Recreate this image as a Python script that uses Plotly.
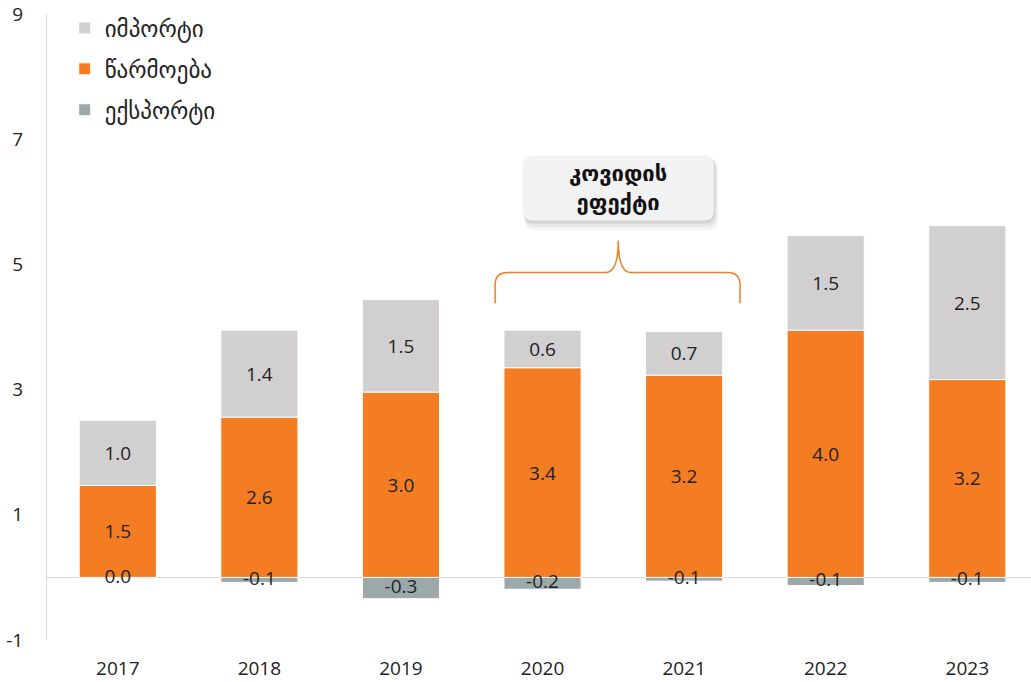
import plotly.graph_objects as go

years = ["2017", "2018", "2019", "2020", "2021", "2022", "2023"]
production = [1.47, 2.56, 2.96, 3.35, 3.23, 3.95, 3.16]
imports = [1.04, 1.39, 1.48, 0.60, 0.70, 1.51, 2.46]
exports = [-0.02, -0.08, -0.34, -0.19, -0.06, -0.13, -0.08]
y_ticks = [-1, 1, 3, 5, 7, 9]

name_imp = "იმპორტი"
name_prod = "წარმოება"
name_exp = "ექსპორტი"
note_lines = ["კოვიდის", "ეფექტი"]

C_IMP = "#D1CFD0"
C_PROD = "#F47C22"
C_EXP = "#9BAAA8"
TXT = "#222222"
FONT = "'Open Sans', 'DejaVu Sans', sans-serif"
FS = 19


def fmt(v):
    s = f"{v:.1f}"
    return "0.0" if s == "-0.0" else s


fig = go.Figure()

fig.add_trace(go.Bar(
    x=years, y=exports, name=name_exp, marker=dict(color=C_EXP, line=dict(color="white", width=1)),
    width=0.545, legendrank=3, legendgroup="c",
))
fig.add_trace(go.Bar(
    x=years, y=production, name=name_prod, marker=dict(color=C_PROD, line=dict(color="white", width=1)),
    width=0.545, text=[fmt(v) for v in production], textposition="inside",
    insidetextanchor="middle", textfont=dict(size=FS, color=TXT, family=FONT),
    legendrank=2, legendgroup="b",
))
fig.add_trace(go.Bar(
    x=years, y=imports, name=name_imp, marker=dict(color=C_IMP, line=dict(color="white", width=1)),
    width=0.545, text=[fmt(v) for v in imports], textposition="inside",
    insidetextanchor="middle", textfont=dict(size=FS, color=TXT, family=FONT),
    legendrank=1, legendgroup="a",
))
fig.add_trace(go.Scatter(
    x=years, y=[v / 2 for v in exports], mode="text",
    text=[fmt(v) for v in exports],
    textfont=dict(size=FS, color=TXT, family=FONT), showlegend=False, hoverinfo="skip",
))

# brace over covid years
bx0, bx1, bxm = 2.665, 4.395, 3.535
yb, yh, yt = 4.38, 4.87, 5.38
dx, dy = 0.09, 0.2
brace = (f"M {bx0},{yb} L {bx0},{yh-dy} Q {bx0},{yh} {bx0+dx},{yh} "
         f"L {bxm-dx},{yh} Q {bxm},{yh} {bxm},{yt} "
         f"Q {bxm},{yh} {bxm+dx},{yh} L {bx1-dx},{yh} Q {bx1},{yh} {bx1},{yh-dy} L {bx1},{yb}")
fig.add_shape(type="path", path=brace, xref="x", yref="y", line=dict(color=C_PROD, width=1.5))


def rrect(x0, x1, y0, y1, rx=0.07, ry=0.16):
    return (f"M {x0+rx},{y0} L {x1-rx},{y0} Q {x1},{y0} {x1},{y0+ry} L {x1},{y1-ry} "
            f"Q {x1},{y1} {x1-rx},{y1} L {x0+rx},{y1} Q {x0},{y1} {x0},{y1-ry} "
            f"L {x0},{y0+ry} Q {x0},{y0} {x0+rx},{y0} Z")


bxa, bxb, bya, byb = 2.86, 4.21, 5.70, 6.74
for i, op in enumerate([0.04, 0.06, 0.08]):
    off = 0.01 * (3 - i)
    fig.add_shape(type="path", path=rrect(bxa + off * 0.5, bxb + off, bya - off * 5, byb - off * 2),
                  xref="x", yref="y", fillcolor=f"rgba(0,0,0,{op})", line=dict(width=0))
fig.add_shape(type="path", path=rrect(bxa, bxb, bya, byb), xref="x", yref="y",
              fillcolor="#F2F2F2", line=dict(width=0))
fig.add_annotation(x=(bxa + bxb) / 2, y=(bya + byb) / 2, xref="x", yref="y",
                   text="<b>" + "<br>".join(note_lines) + "</b>", showarrow=False,
                   font=dict(size=22, color="#111111", family="'DejaVu Sans', sans-serif"),
                   align="center")

fig.update_layout(
    barmode="relative",
    width=1031, height=682,
    margin=dict(l=47, r=0, t=14, b=42, autoexpand=False),
    plot_bgcolor="white", paper_bgcolor="white",
    font=dict(family=FONT, size=FS, color=TXT),
    showlegend=True,
    legend=dict(x=0.018, y=1.012, xanchor="left", yanchor="top", traceorder="grouped",
                tracegroupgap=8, font=dict(size=23, color=TXT, family="'DejaVu Sans', sans-serif"),
                bgcolor="rgba(0,0,0,0)", itemwidth=30),
    xaxis=dict(type="category", range=[-0.5, 6.45], showgrid=False, showline=False,
               automargin=False,
               ticks="outside", ticklen=11, tickcolor="rgba(0,0,0,0)",
               tickfont=dict(size=FS, color=TXT, family=FONT)),
    yaxis=dict(range=[-1, 9], tickvals=y_ticks, ticktext=[str(t) for t in y_ticks],
               showgrid=False, automargin=False, ticklabeloverflow="allow",
               showline=True, linecolor="#D9D9D9", linewidth=1,
               zeroline=True, zerolinecolor="#D9D9D9", zerolinewidth=1,
               ticks="outside", ticklen=19, tickcolor="rgba(0,0,0,0)",
               tickfont=dict(size=FS, color=TXT, family=FONT)),
)

fig.write_html("out.html", config={"displayModeBar": False},
               post_script="document.body.style.margin='0';document.body.style.overflow='hidden';")
